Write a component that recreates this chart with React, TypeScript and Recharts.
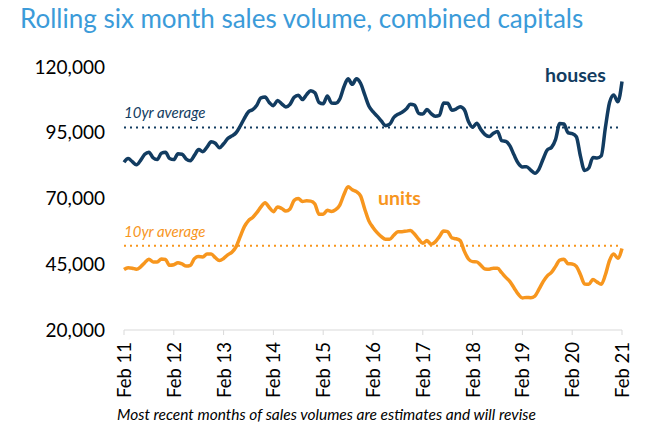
import React from "react";
import { LineChart, Line, XAxis, YAxis, ReferenceLine } from "recharts";

// rolling six month sales volume, monthly from Feb 2011 to Feb 2021
const houses = [
  83800, 85200, 84000, 82800, 84500, 86800, 87600, 85500, 84800, 87200, 87600, 85200,
  84800, 87000, 86800, 85000, 84400, 86500, 88600, 87800, 89500, 91600, 91000, 89300,
  90800, 92800, 93800, 95000, 97500, 100500, 103000, 103800, 105500, 108300, 108600, 106500,
  105300, 107300, 106000, 104800, 105800, 108500, 109300, 107600, 109500, 111000, 110200, 106500,
  106000, 109000, 106300, 106200, 107800, 112500, 115500, 113400, 115500, 113800, 109500, 105200,
  103000, 101300, 99500, 97700, 98200, 100800, 102000, 102800, 104000, 105800, 105500, 102400,
  102100, 103800, 102300, 101300, 101600, 106300, 106200, 103600, 104000, 104900, 103800, 99300,
  97100, 98600, 96200, 94300, 93600, 94800, 95500, 92000, 91700, 90000, 86500, 83400,
  82000, 82100, 80800, 79600, 81200, 85000, 88500, 89400, 92500, 98500, 98300, 95000,
  94700, 93500, 86000, 80600, 81600, 85600, 85400, 86200, 97000, 106500, 109400, 106800,
  114500,
];

const units = [
  43000, 43700, 43500, 43100, 44000, 45600, 46900, 45900, 45900, 47000, 46800, 44600,
  44800, 45600, 45100, 44300, 44600, 47200, 47900, 47800, 48900, 48900, 47500, 46400,
  47200, 48600, 49600, 51600, 55500, 59300, 61600, 62800, 64600, 66800, 68400, 66600,
  65000, 66800, 66200, 65200, 66000, 69300, 70000, 68900, 69100, 69000, 67900, 64000,
  64000, 65500, 65100, 65800, 67500, 71500, 74500, 73300, 72600, 71000, 66000, 61500,
  59000, 57000, 55500, 54500, 54500, 56000, 57400, 57400, 57600, 57800, 56500, 54500,
  53000, 54000, 52600, 53500, 55500, 57600, 57400, 55000, 54700, 54000, 50000, 47000,
  46000, 45900, 44600, 43200, 43100, 43500, 43500, 41800, 40000, 38400, 36000, 33600,
  32200, 32400, 32300, 32900, 35500, 38400, 40600, 41900, 44200, 46600, 46900, 45200,
  45100, 44200, 41000, 37500, 37400, 39200, 38200, 37400, 41000, 46500, 48900, 47300,
  51000,
];

const housesAverage = 97000;
const unitsAverage = 52000;

const yTicks = [20000, 45000, 70000, 95000, 120000];
const xTicks = [0, 12, 24, 36, 48, 60, 72, 84, 96, 108, 120];
const monthNames = ["Jan", "Feb", "Mar", "Apr", "May", "Jun", "Jul", "Aug", "Sep", "Oct", "Nov", "Dec"];

const monthLabel = (i: number) => {
  const n = i + 1; // index 0 is Feb 2011
  return `${monthNames[n % 12]} ${11 + Math.floor(n / 12)}`;
};

const data = houses.map((h, i) => ({ idx: i, month: monthLabel(i), houses: h, units: units[i] }));

const NAVY = "#123c61";
const ORANGE = "#f7961e";
const FONT = "Lato, sans-serif";

const XTick = (props: any) => {
  const { x, y, payload } = props;
  const ty = y + 5;
  return (
    <text
      x={x}
      y={ty}
      transform={`rotate(-90, ${x}, ${ty})`}
      textAnchor="end"
      dominantBaseline="central"
      fontSize={18.5}
      fontFamily={FONT}
      fill="#000"
    >
      {monthLabel(payload.value)}
    </text>
  );
};

// "10yr average" sits just above its dotted line
const avgLabel = (color: string) => (props: any) => {
  const { viewBox } = props;
  return (
    <text x={viewBox.x} y={viewBox.y - 9} fill={color} fontSize={15} fontStyle="italic" fontFamily={FONT}>
      10yr average
    </text>
  );
};

export default function App() {
  return (
    <div style={{ position: "absolute", left: 0, top: 0, width: 648, height: 440, background: "#fff", fontFamily: FONT }}>
      <div style={{ position: "absolute", left: 20, top: 2, fontSize: 26, color: "#3b9bd9", whiteSpace: "nowrap" }}>
        Rolling six month sales volume, combined capitals
      </div>
      <LineChart width={648} height={440} data={data} margin={{ top: 67, right: 26, left: 0, bottom: 0 }}>
        <XAxis
          dataKey="idx"
          type="number"
          domain={[0, 120]}
          ticks={xTicks}
          interval={0}
          height={110}
          stroke="#d9d9d9"
          tickSize={5}
          tick={<XTick />}
        />
        <YAxis
          domain={[20000, 120000]}
          ticks={yTicks}
          width={124}
          axisLine={false}
          tickLine={false}
          tickSize={0}
          tickMargin={19}
          tickFormatter={(v: number) => v.toLocaleString("en-US")}
          tick={{ fontSize: 19, fill: "#000", fontFamily: FONT }}
        />
        <ReferenceLine y={housesAverage} stroke={NAVY} strokeWidth={2} strokeDasharray="2 4" label={avgLabel(NAVY)} />
        <ReferenceLine y={unitsAverage} stroke={ORANGE} strokeWidth={2} strokeDasharray="2 4" label={avgLabel(ORANGE)} />
        <Line type="monotone" dataKey="houses" stroke={NAVY} strokeWidth={3.5} dot={false} isAnimationActive={false} />
        <Line type="monotone" dataKey="units" stroke={ORANGE} strokeWidth={3.5} dot={false} isAnimationActive={false} />
      </LineChart>
      <div style={{ position: "absolute", left: 545, top: 63, fontSize: 19.5, fontWeight: 700, color: NAVY }}>houses</div>
      <div style={{ position: "absolute", left: 378, top: 186, fontSize: 19.5, fontWeight: 700, color: ORANGE }}>units</div>
      <div style={{ position: "absolute", left: 117, top: 405, fontSize: 15.5, fontStyle: "italic", color: "#000", whiteSpace: "nowrap" }}>
        Most recent months of sales volumes are estimates and will revise
      </div>
    </div>
  );
}
